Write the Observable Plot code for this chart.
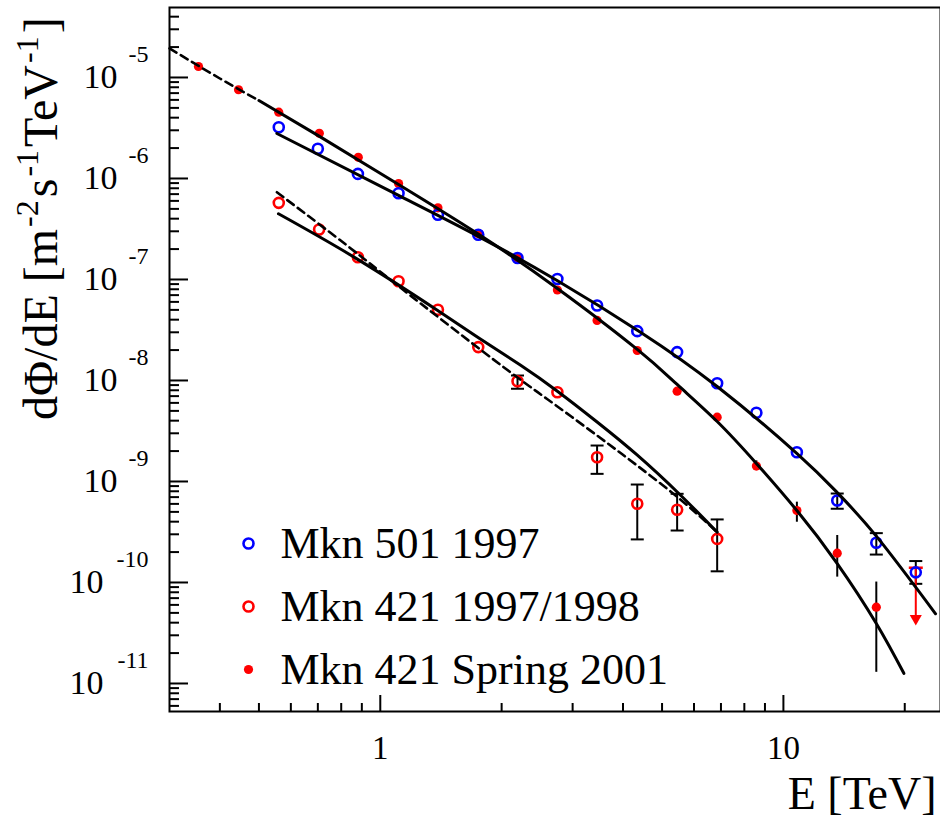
<!DOCTYPE html>
<html><head><meta charset="utf-8">
<script src="https://cdn.jsdelivr.net/npm/d3@7"></script>
<script src="https://cdn.jsdelivr.net/npm/@observablehq/plot@0.6"></script>
<style>
body{margin:0;background:#fff}
#chart{position:relative;width:940px;height:819px;overflow:hidden}
</style>
</head><body><div id="chart"></div>
<script>
// ---- data ----
// Mkn 501 1997 (blue open circles)
const mkn501E = [0.56, 0.70, 0.88, 1.11, 1.39, 1.75, 2.19, 2.75, 3.45, 4.34, 5.45, 6.85, 8.57, 10.8, 13.6, 17.0, 21.3];
const mkn501F = [3.22e-6, 1.97e-6, 1.11e-6, 7.15e-7, 4.37e-7, 2.77e-7, 1.63e-7, 1.01e-7, 5.53e-8, 3.08e-8, 1.91e-8, 9.40e-9, 4.79e-9, 1.95e-9, 6.48e-10, 2.47e-10, 1.26e-10];
const mkn501ErrE = [13.6, 17.0, 21.3];
const mkn501ErrLo = [5.37e-10, 1.89e-10, 9.7e-11];
const mkn501ErrHi = [7.6e-10, 3.08e-10, 1.63e-10];

// Mkn 421 1997/1998 (red open circles)
const mkn421aE = [0.56, 0.705, 0.88, 1.11, 1.39, 1.75, 2.19, 2.75, 3.45, 4.34, 5.45, 6.85];
const mkn421aF = [5.74e-7, 3.13e-7, 1.66e-7, 9.61e-8, 5.01e-8, 2.14e-8, 9.84e-9, 7.66e-9, 1.74e-9, 6.01e-10, 5.25e-10, 2.70e-10];
const mkn421aErrE = [2.19, 3.45, 4.34, 5.45, 6.85];
const mkn421aErrLo = [8.28e-9, 1.19e-9, 2.67e-10, 3.27e-10, 1.29e-10];
const mkn421aErrHi = [1.12e-8, 2.27e-9, 9.33e-10, 7.55e-10, 4.21e-10];

// Mkn 421 Spring 2001 (red filled circles)
const mkn421bE = [0.354, 0.445, 0.56, 0.706, 0.882, 1.11, 1.39, 1.75, 2.19, 2.75, 3.45, 4.34, 5.45, 6.85, 8.57, 10.8, 13.6, 17.0];
const mkn421bF = [1.285e-5, 7.56e-6, 4.53e-6, 2.80e-6, 1.62e-6, 8.91e-7, 5.12e-7, 2.85e-7, 1.61e-7, 7.87e-8, 3.93e-8, 1.98e-8, 7.84e-9, 4.33e-9, 1.42e-9, 5.16e-10, 1.95e-10, 5.69e-11];
const mkn421bErrE = [8.57, 10.8, 13.6, 17.0];
const mkn421bErrLo = [1.3e-9, 3.95e-10, 1.13e-10, 1.29e-11];
const mkn421bErrHi = [1.6e-9, 6.24e-10, 2.92e-10, 1.01e-10];
const mkn421bLimitE = [21.3];
const mkn421bLimitF = [1.40e-10];
const mkn421bLimitTip = [4.4e-11];

// fitted curves (vertices)
const fit2001DashE = [0.30, 0.40, 0.50];
const fit2001DashF = [1.94e-5, 9.77e-6, 5.92e-6];
const fit2001E = [0.50, 0.70, 1.11, 1.75, 2.75, 4.34, 5.45, 6.85, 8.57, 10.8, 13.6, 17.0, 19.9];
const fit2001F = [5.92e-6, 2.67e-6, 8.73e-7, 2.82e-7, 8.15e-8, 2.03e-8, 9.13e-9, 3.93e-9, 1.51e-9, 5.16e-10, 1.54e-10, 3.93e-11, 1.26e-11];
const fit501E = [0.554, 1.11, 1.754, 2.745, 4.42, 6.85, 10.81, 13.6, 17.08, 23.85];
const fit501F = [2.79e-6, 6.79e-7, 2.66e-7, 9.77e-8, 3.01e-8, 8.72e-9, 1.89e-9, 7.78e-10, 2.81e-10, 4.90e-11];
const fit421aE = [0.559, 0.875, 1.382, 1.771, 2.225, 2.745, 3.45, 4.335, 5.55, 6.85];
const fit421aF = [4.47e-7, 1.60e-7, 4.99e-8, 2.58e-8, 1.42e-8, 7.87e-9, 3.88e-9, 1.83e-9, 7.35e-10, 3.15e-10];
const fit421aDashE = [0.554, 0.827, 1.12, 1.91, 2.593, 3.45, 4.335, 5.55, 6.85];
const fit421aDashF = [7.31e-7, 2.17e-7, 8.34e-8, 1.61e-8, 6.56e-9, 2.85e-9, 1.44e-9, 6.64e-10, 3.15e-10];

// axes and legend text
const xTickValues = [1, 10];
const xTickLabels = ["1", "10"];
const yTickValues = [1e-5, 1e-6, 1e-7, 1e-8, 1e-9, 1e-10, 1e-11];
const yTickExps = ["-5", "-6", "-7", "-8", "-9", "-10", "-11"];
const xTitle = "E [TeV]";
const yTitleParts = [["dΦ/dE [m", false], ["-2", true], ["s", false], ["-1", true], ["TeV", false], ["-1", true], ["]", false]];
const legendLabels = ["Mkn 501 1997", "Mkn 421 1997/1998", "Mkn 421 Spring 2001"];
const xDomain = [0.3, 24.53];
const yDomain = [5.28e-12, 4.93e-5];

// ---- tables ----
const zip = (E, F) => E.map((e, i) => ({E: e, F: F[i]}));
const zipErr = (E, lo, hi) => E.map((e, i) => ({E: e, lo: lo[i], hi: hi[i]}));
const d501 = zip(mkn501E, mkn501F);
const d421a = zip(mkn421aE, mkn421aF);
const d421b = zip(mkn421bE, mkn421bF);
const e501 = zipErr(mkn501ErrE, mkn501ErrLo, mkn501ErrHi);
const e421a = zipErr(mkn421aErrE, mkn421aErrLo, mkn421aErrHi);
const e421b = zipErr(mkn421bErrE, mkn421bErrLo, mkn421bErrHi);
const lim = mkn421bLimitE.map((e, i) => ({E: e, F: mkn421bLimitF[i], tip: mkn421bLimitTip[i]}));
const yLabels = yTickValues.map((v, i) => ({v, exp: yTickExps[i]}));

const W = 940, H = 819, ML = 169, MR = 0, MT = 7, MB = 108;
const FW = W - ML - MR, FH = H - MT - MB;
const isPow10 = v => Math.abs(Math.log10(v) - Math.round(Math.log10(v))) < 1e-9;
const xAll = d3.scaleLog().domain(xDomain).ticks().filter(v => v > xDomain[0] * 1.001 && v < xDomain[1]);
const yAll = d3.scaleLog().domain(yDomain).ticks().filter(v => v > yDomain[0] && v < yDomain[1]);
const xMajor = xAll.filter(isPow10), xMinor = xAll.filter(v => !isPow10(v));
const yMajor = yAll.filter(isPow10), yMinor = yAll.filter(v => !isPow10(v));

const capSym = {draw(ctx, size) { const r = Math.sqrt(size / Math.PI); ctx.moveTo(-r, 0); ctx.lineTo(r, 0); }};
const BLUE = "#0000ff", RED = "#ff0000";
const FONT = "'Liberation Serif', 'Times New Roman', serif";
const errMarks = (data, caps) => [
  Plot.ruleX(data, {x: "E", y1: "lo", y2: "hi", stroke: "black", strokeWidth: 2}),
  ...(caps ? [
    Plot.dot(data, {x: "E", y: "lo", symbol: capSym, r: 6.5, fill: "none", stroke: "black", strokeWidth: 2}),
    Plot.dot(data, {x: "E", y: "hi", symbol: capSym, r: 6.5, fill: "none", stroke: "black", strokeWidth: 2})
  ] : [])
];

const legendStyles = [
  {fill: "none", stroke: BLUE, strokeWidth: 2.6, r: 5},
  {fill: "none", stroke: RED, strokeWidth: 2.6, r: 5},
  {fill: RED, stroke: "none", r: 4.6}
];
const legendMarks = legendLabels.flatMap((lab, i) => [
  Plot.dot([lab], {frameAnchor: "top-left", dx: 79, dy: 536 + i * 63, ...legendStyles[i]}),
  Plot.text([lab], {frameAnchor: "top-left", text: d => d, dx: 111, dy: 550 + i * 63, textAnchor: "start", lineAnchor: "bottom", fontSize: 44, fill: "black"})
]);

const chart = Plot.plot({
  width: W, height: H,
  marginLeft: ML, marginRight: MR, marginTop: MT, marginBottom: MB,
  x: {type: "log", domain: xDomain, axis: null},
  y: {type: "log", domain: yDomain, axis: null},
  style: {fontFamily: FONT, background: "white", color: "black"},
  marks: [
    // ticks (inward, ROOT style)
    Plot.tickX(xMajor, {x: d => d, insetTop: FH - 16, stroke: "black", strokeWidth: 2}),
    Plot.tickX(xMinor, {x: d => d, insetTop: FH - 8, stroke: "black", strokeWidth: 2}),
    Plot.tickY(yMajor, {y: d => d, insetRight: FW - 19, stroke: "black", strokeWidth: 2}),
    Plot.tickY(yMinor, {y: d => d, insetRight: FW - 10, stroke: "black", strokeWidth: 2}),
    // tick labels
    Plot.text(xTickValues, {x: d => d, text: (d, i) => xTickLabels[i], frameAnchor: "bottom", dy: 47, lineAnchor: "bottom", fontSize: 33, fill: "black"}),
    Plot.text(yLabels.filter(d => d.exp.length < 3), {y: "v", text: () => "10", frameAnchor: "left", dx: -52, textAnchor: "end", lineAnchor: "middle", fontSize: 34, fill: "black"}),
    Plot.text(yLabels.filter(d => d.exp.length >= 3), {y: "v", text: () => "10", frameAnchor: "left", dx: -66, textAnchor: "end", lineAnchor: "middle", fontSize: 34, fill: "black"}),
    Plot.text(yLabels, {y: "v", text: "exp", frameAnchor: "left", dx: -21, dy: -23, textAnchor: "end", lineAnchor: "middle", fontSize: 24, fill: "black"}),
    Plot.text([xTitle], {text: d => d, frameAnchor: "bottom-right", dx: -4, dy: 97, textAnchor: "end", lineAnchor: "bottom", fontSize: 46, fill: "black"}),
    // error bars
    ...errMarks(e501, true),
    ...errMarks(e421a, true),
    ...errMarks(e421b, false),
    // upper limit
    Plot.ruleX(lim, {x: "E", y1: "F", y2: "tip", stroke: RED, strokeWidth: 2}),
    Plot.dot(lim, {x: "E", y: "F", symbol: capSym, r: 7, fill: "none", stroke: RED, strokeWidth: 2.5}),
    Plot.dot(lim, {x: "E", y: "tip", symbol: "triangle", rotate: 180, r: 4.5, fill: RED, stroke: "none"}),
    // data points
    Plot.dot(d421b, {x: "E", y: "F", r: 4.6, fill: RED, stroke: "none"}),
    Plot.dot(d421a, {x: "E", y: "F", r: 5, fill: "none", stroke: RED, strokeWidth: 2.6}),
    Plot.dot(d501, {x: "E", y: "F", r: 5, fill: "none", stroke: BLUE, strokeWidth: 2.6}),
    // fit curves
    Plot.line(zip(fit2001DashE, fit2001DashF), {x: "E", y: "F", curve: "natural", stroke: "black", strokeWidth: 2.6, strokeDasharray: "8,5"}),
    Plot.line(zip(fit2001E, fit2001F), {x: "E", y: "F", curve: "natural", stroke: "black", strokeWidth: 3}),
    Plot.line(zip(fit501E, fit501F), {x: "E", y: "F", curve: "natural", stroke: "black", strokeWidth: 3}),
    Plot.line(zip(fit421aE, fit421aF), {x: "E", y: "F", curve: "natural", stroke: "black", strokeWidth: 3}),
    Plot.line(zip(fit421aDashE, fit421aDashF), {x: "E", y: "F", curve: "natural", stroke: "black", strokeWidth: 2.6, strokeDasharray: "8,5"}),
    // legend
    ...legendMarks,
    Plot.frame({stroke: "black", strokeWidth: 2})
  ]
});
document.getElementById("chart").appendChild(chart);

// y axis title with superscripts
const svg = d3.select(chart);
const t = svg.append("text")
  .attr("transform", "translate(57,420) rotate(-90)")
  .attr("text-anchor", "start")
  .attr("font-family", FONT)
  .attr("font-size", 48).attr("fill", "black");
let up = false;
yTitleParts.forEach(([s, sup]) => {
  const ts = t.append("tspan").text(s);
  if (sup && !up) { ts.attr("dy", -19).attr("font-size", 32).attr("dx", 2); up = true; }
  else if (!sup && up) { ts.attr("dy", 19).attr("dx", 3); up = false; }
});
</script>
</body></html>
